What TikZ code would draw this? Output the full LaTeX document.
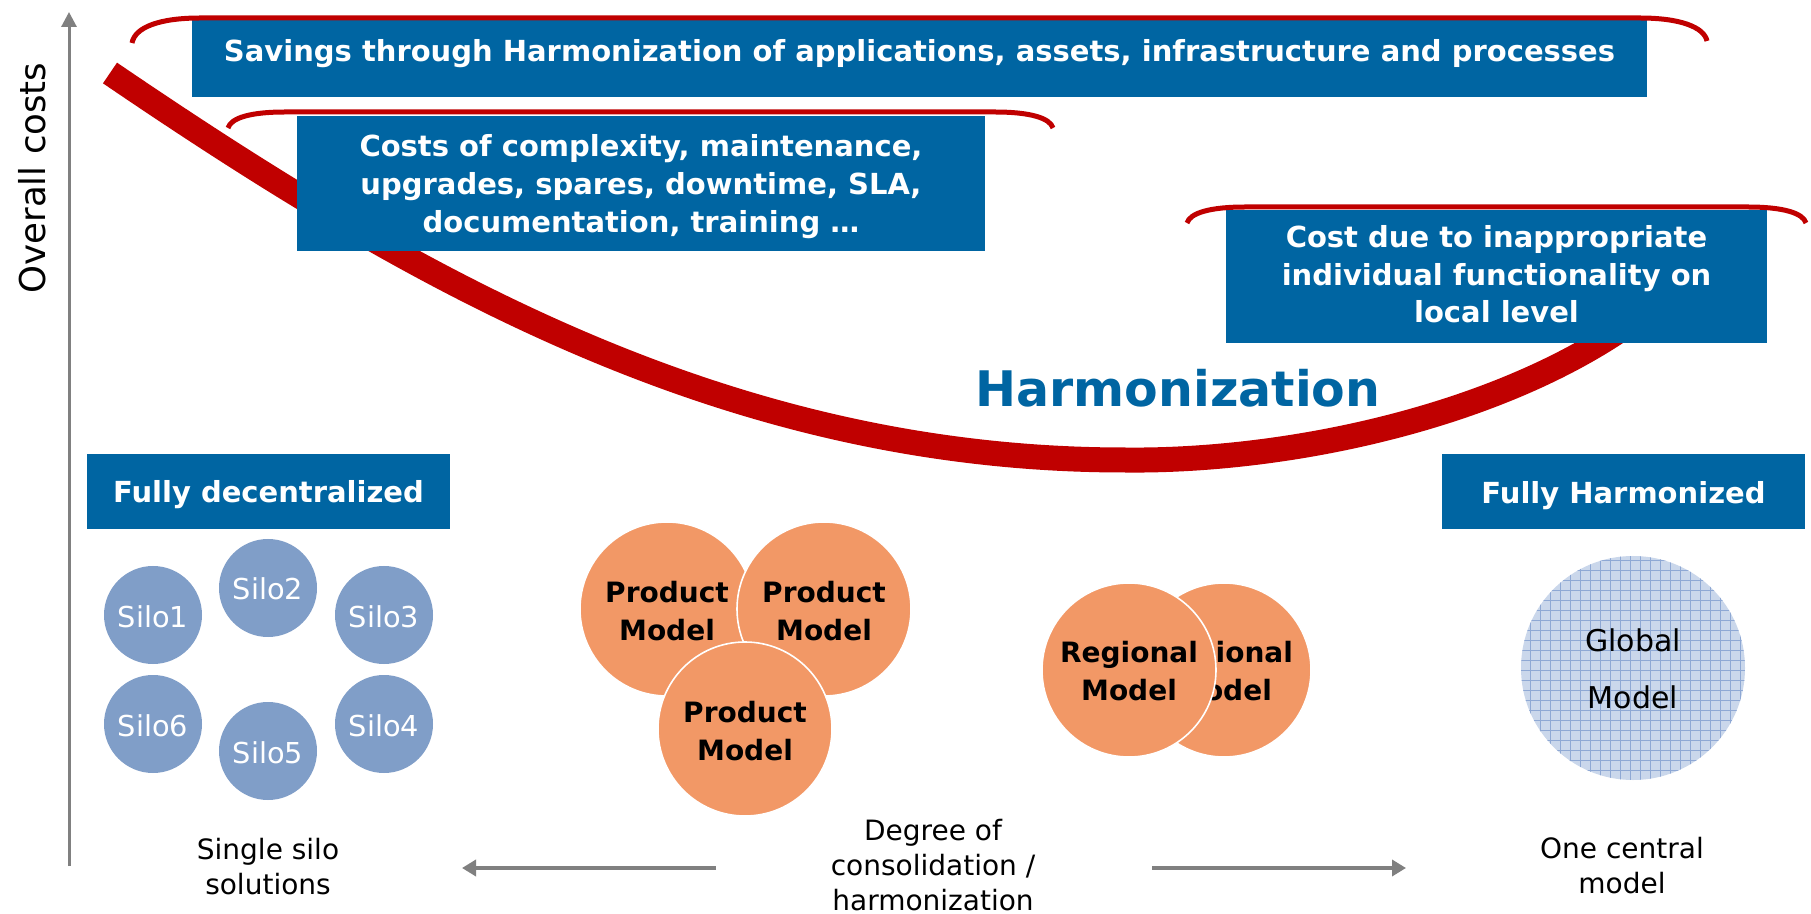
\documentclass[tikz,border=0pt]{standalone}
\usepackage{fontspec}
\setmainfont{DejaVu Sans}
\usetikzlibrary{arrows.meta}
\definecolor{boxblue}{RGB}{0,101,162}
\definecolor{curvered}{RGB}{192,0,0}
\definecolor{siloblue}{RGB}{128,158,200}
\definecolor{orangefill}{RGB}{242,152,102}
\definecolor{globalfill}{RGB}{202,215,235}
\definecolor{gridblue}{RGB}{142,168,212}
\definecolor{axisgray}{RGB}{128,128,128}
\tikzset{
  bluebox/.style={fill=boxblue, draw=none, inner sep=0pt},
  boxtext/.style={text=white, font=\fontsize{14.5}{19}\selectfont\bfseries, align=center, inner sep=0pt, anchor=base},
  bracket/.style={draw=curvered, line width=2.5pt},
  silo/.style={circle, fill=siloblue, minimum size=49pt, inner sep=0pt},
  silotext/.style={text=white, font=\fontsize{14.4}{17}\selectfont, inner sep=0pt, anchor=base},
  orb/.style={circle, fill=orangefill, draw=white, line width=0.8pt, minimum size=87pt, inner sep=0pt},
  orbtext/.style={font=\fontsize{14}{19}\selectfont\bfseries, align=center, inner sep=0pt, anchor=base},
  label/.style={font=\fontsize{14}{17.5}\selectfont, align=center, inner sep=0pt, anchor=base},
  grayarrow/.style={draw=axisgray, line width=2pt, -{Triangle[width=8pt,length=7pt]}},
}
\begin{document}
\begin{tikzpicture}[x=0.5pt,y=-0.5pt]
\useasboundingbox[fill=white] (0,0) rectangle (1811,914);

% axis
\coordinate (axbot) at (69,866);
\coordinate (axtop) at (69,12);
\draw[draw=axisgray, line width=1.5pt, -{Triangle[width=7.5pt,length=7.5pt]}] (axbot) -- (axtop);
\node[rotate=90, anchor=base, inner sep=0pt, font=\fontsize{17.8}{20}\selectfont] (ylab) at (46,178) {Overall costs};

% main curve
\draw[curvered, line width=12.5pt] (110,73) .. controls (410,277) and (725,460) .. (1125,460)
  .. controls (1300,462) and (1530,410) .. (1660,300);

% boxes (multi-line texts are placed by the baseline of their last line)
\node[bluebox, minimum width=727.5pt, minimum height=38.5pt] (b1) at (919.5,58.5) {};
\node[boxtext] (t1) at (919.5,62) {Savings through Harmonization of applications, assets, infrastructure and processes};
\node[bluebox, minimum width=344pt, minimum height=67.5pt] (b2) at (641,183.5) {};
\node[boxtext] (t2) at (641,233) {Costs of complexity, maintenance,\\upgrades, spares, downtime, SLA,\\documentation, training \dots};
\node[bluebox, minimum width=270.5pt, minimum height=66.5pt] (b3) at (1496.5,276.5) {};
\node[boxtext, font=\fontsize{14.5}{18.75}\selectfont\bfseries] (t3) at (1496.5,323) {Cost due to inappropriate\\individual functionality on\\local level};

% brackets
\draw[bracket] (132,43) .. controls (135,27) and (160,18) .. (200,18) -- (1640,18) .. controls (1680,18) and (1704,27) .. (1707,41);
\draw[bracket] (228,128) .. controls (231,118) and (250,112) .. (285,112) -- (995,112) .. controls (1030,112) and (1050,118) .. (1053,128);
\draw[bracket] (1187,223) .. controls (1190,213) and (1210,207) .. (1245,207) -- (1748,207) .. controls (1783,207) and (1803,213) .. (1806,223);

% Harmonization
\node[anchor=base, inner sep=0pt, text=boxblue, font=\fontsize{24.5}{28}\selectfont\bfseries] (harm) at (1178,407) {Harmonization};

% side boxes
\node[bluebox, minimum width=181.5pt, minimum height=37.5pt] (fd) at (268.5,491.5) {};
\node[boxtext] (fdt) at (268.5,503) {Fully decentralized};
\node[bluebox, minimum width=181.5pt, minimum height=37.5pt] (fh) at (1623.5,491.5) {};
\node[boxtext] (fht) at (1623.5,504) {Fully Harmonized};

% silos
\foreach \n/\x/\y in {1/153/615, 2/268/588, 3/384/615, 4/384/724, 5/268/751, 6/153/724}{
  \node[silo] (silo\n) at (\x,\y) {};
  \node[silotext] (silot\n) at (\x,\y+12) {Silo\n};
}
\node[label] (single) at (268,894) {Single silo\\solutions};

% product models
\node[orb] (pm1) at (667,609) {};
\node[orbtext] (pm1t) at (667,640) {Product\\Model};
\node[orb] (pm2) at (824,609) {};
\node[orbtext] (pm2t) at (824,640) {Product\\Model};
\node[orb] (pm3) at (745,729) {};
\node[orbtext] (pm3t) at (745,760) {Product\\Model};

% regional models
\node[orb] (rm2) at (1224,670) {};
\node[orbtext] (rm2t) at (1224,700) {Regional\\Model};
\node[orb] (rm1) at (1129,670) {};
\node[orbtext] (rm1t) at (1129,700) {Regional\\Model};

% global model
\node[circle, fill=globalfill, minimum size=112pt, inner sep=0pt] (gm) at (1633,668) {};
\begin{scope}
  \clip (1633,668) circle[radius=56pt];
  \draw[gridblue, line width=0.4pt, step=5pt] (1515,550) grid (1750,785);
\end{scope}
\node[label, font=\fontsize{15}{17}\selectfont] (gmt1) at (1633,651) {Global};
\node[label, font=\fontsize{15}{17}\selectfont] (gmt2) at (1633,708) {Model};
\node[label] (central) at (1622,893) {One central\\model};

% bottom axis labels and arrows
\node[label] (degree) at (933,910) {Degree of\\consolidation /\\harmonization};
\coordinate (la1) at (716,868);
\coordinate (la2) at (462,868);
\coordinate (ra1) at (1152,868);
\coordinate (ra2) at (1406,868);
\draw[grayarrow] (la1) -- (la2);
\draw[grayarrow] (ra1) -- (ra2);
\end{tikzpicture}
\end{document}
